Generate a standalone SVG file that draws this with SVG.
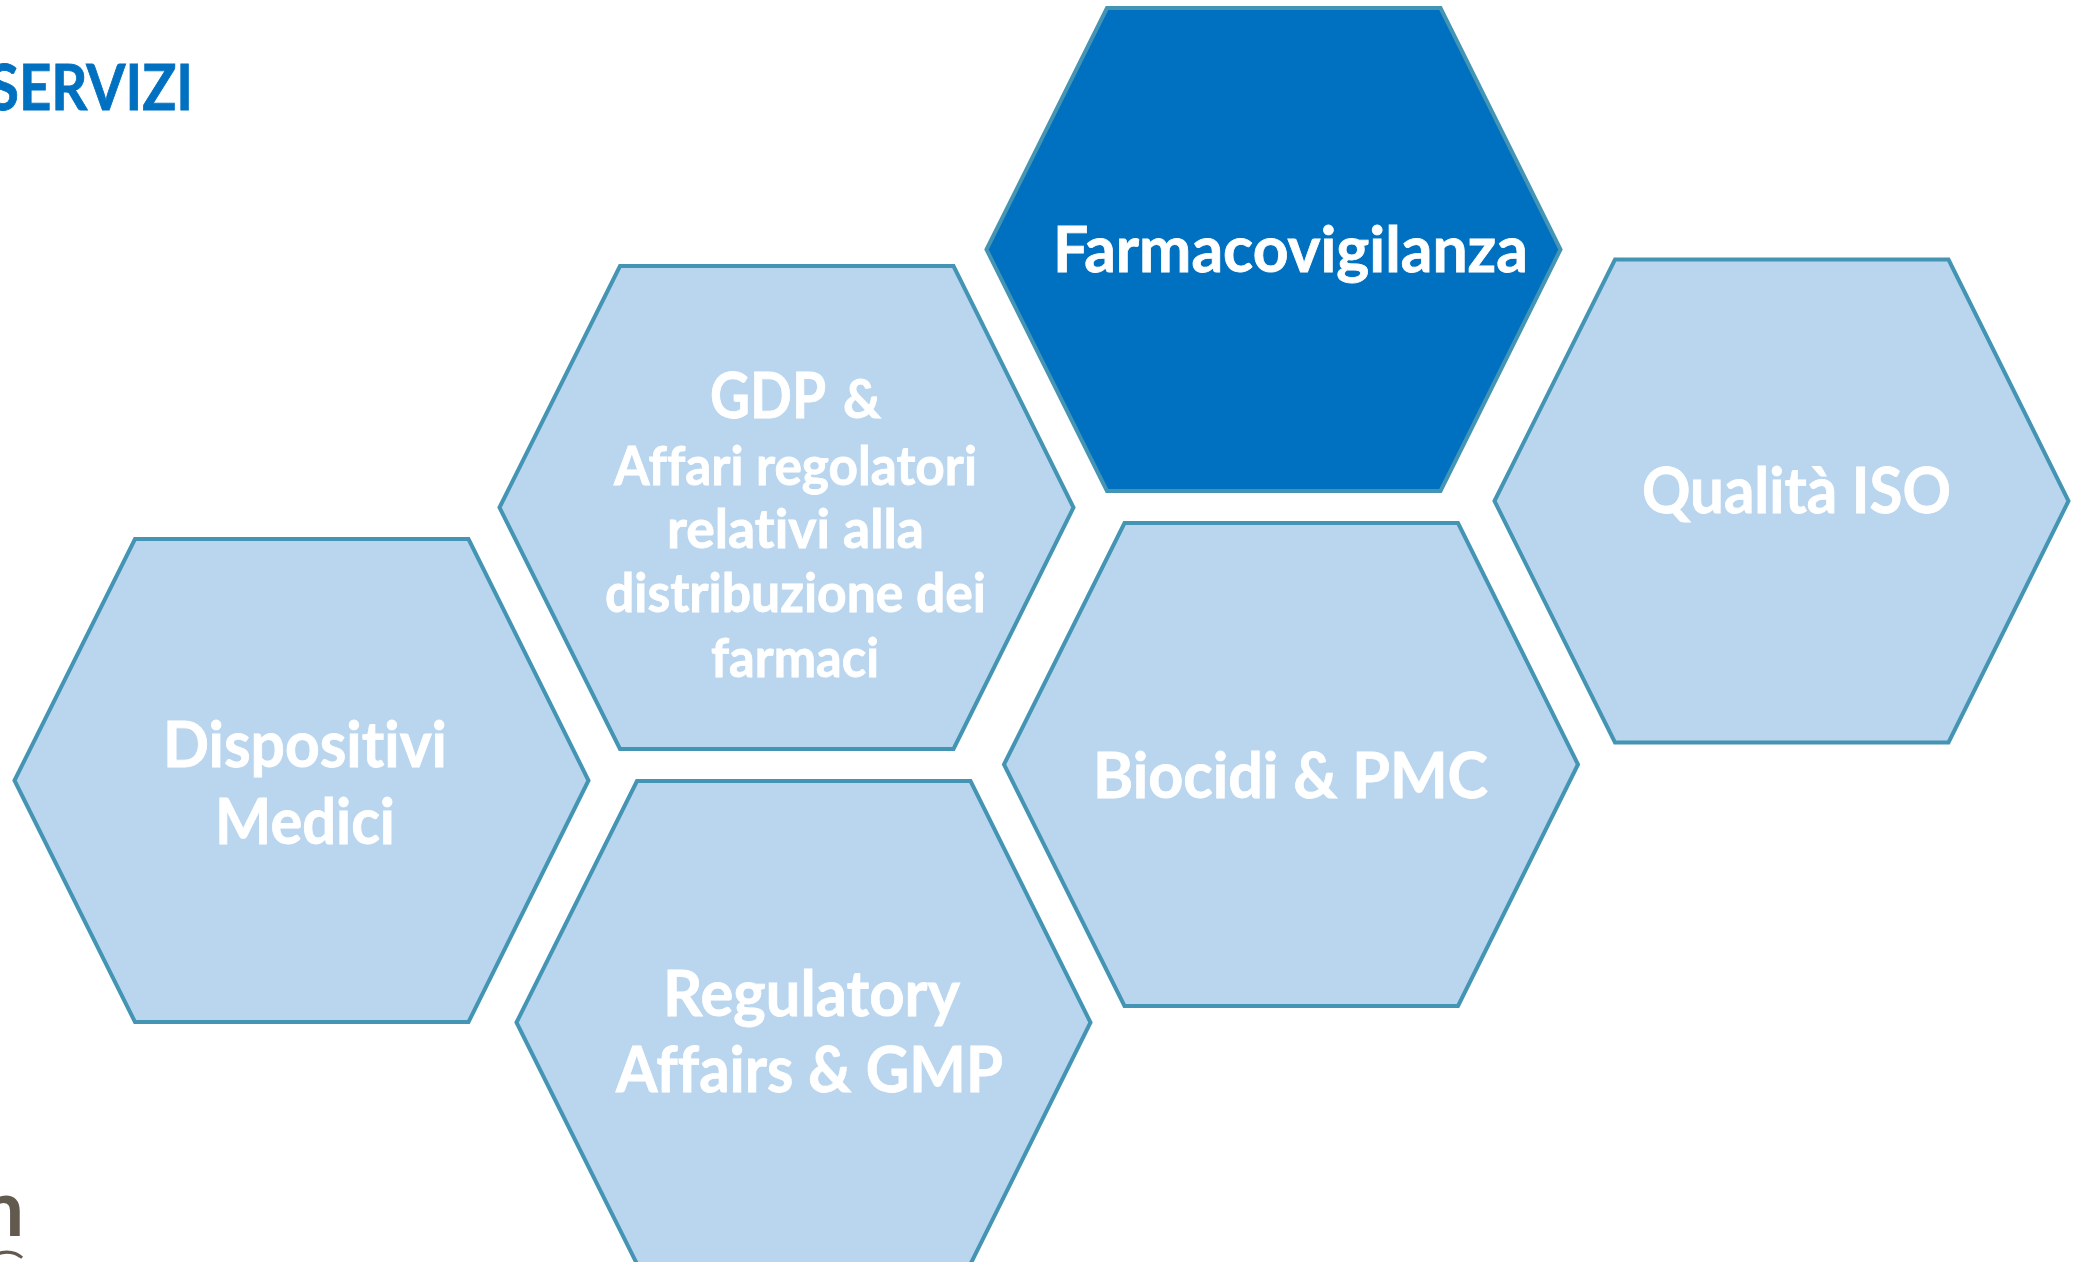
<svg xmlns="http://www.w3.org/2000/svg" width="2082" height="1262" viewBox="0 0 2082 1262">
<style>
.hex{fill:#bad6ee;stroke:#4494b4;stroke-width:4;stroke-linejoin:miter}
.dark{fill:#0070c0}
.t{font-family:"Lato","Noto Sans","Liberation Sans",sans-serif;font-weight:700;fill:#fff;font-size:64px;stroke:#fff;stroke-width:.8px;font-variant-ligatures:none}
.s{font-size:53px}
.title{font-family:"Lato","Noto Sans","Liberation Sans",sans-serif;font-weight:700;fill:#0070c0;font-size:64px;stroke:#0070c0;stroke-width:.8px}
.logo{font-family:"Lato","Liberation Sans",sans-serif;fill:#625a4f}
</style>
<defs><path id="h" d="M0 241.500L120.500 0H454L574 241.500L454 483H120.500Z"/></defs>
<rect width="2082" height="1262" fill="#fff"/>
<text class="title" x="193" y="110" text-anchor="end" textLength="205" lengthAdjust="spacingAndGlyphs">SERVIZI</text>
<g id="node-farmacovigilanza"><use href="#h" class="hex dark" x="986.500" y="8"/><text class="t" x="1053" y="272" textLength="475" lengthAdjust="spacingAndGlyphs">Farmacovigilanza</text></g>
<g id="node-gdp"><use href="#h" class="hex" x="499.500" y="266"/>
<text class="t" x="710" y="418" textLength="116" lengthAdjust="spacingAndGlyphs">GDP</text><text class="t s" x="843" y="418" textLength="38" lengthAdjust="spacingAndGlyphs">&amp;</text>
<text class="t s" x="614" y="485" textLength="363" lengthAdjust="spacingAndGlyphs">Affari regolatori</text>
<text class="t s" x="667" y="548" textLength="257" lengthAdjust="spacingAndGlyphs">relativi alla</text>
<text class="t s" x="605" y="612" textLength="381" lengthAdjust="spacingAndGlyphs">distribuzione dei</text>
<text class="t s" x="711" y="677" textLength="168" lengthAdjust="spacingAndGlyphs">farmaci</text></g>
<g id="node-qualita"><use href="#h" class="hex" x="1494.500" y="259.500"/><text class="t" x="1642" y="513" textLength="309" lengthAdjust="spacingAndGlyphs">Qualità ISO</text></g>
<g id="node-dispositivi"><use href="#h" class="hex" x="14.500" y="539"/><text class="t" x="163" y="767" textLength="284" lengthAdjust="spacingAndGlyphs">Dispositivi</text><text class="t" x="215" y="844" textLength="180" lengthAdjust="spacingAndGlyphs">Medici</text></g>
<g id="node-biocidi"><use href="#h" class="hex" x="1004" y="523"/><text class="t" x="1093" y="798" textLength="395" lengthAdjust="spacingAndGlyphs">Biocidi &amp; PMC</text></g>
<g id="node-regulatory"><use href="#h" class="hex" x="516.500" y="781"/><text class="t" x="663" y="1016" textLength="297" lengthAdjust="spacingAndGlyphs">Regulatory</text><text class="t" x="616" y="1092" textLength="387" lengthAdjust="spacingAndGlyphs">Affairs &amp; GMP</text></g>
<g id="logo"><text class="logo" x="24" y="1236" text-anchor="end" font-size="78" font-weight="700">m</text><text class="logo" x="26" y="1301" text-anchor="end" font-size="70" font-weight="300">C</text></g>
</svg>
